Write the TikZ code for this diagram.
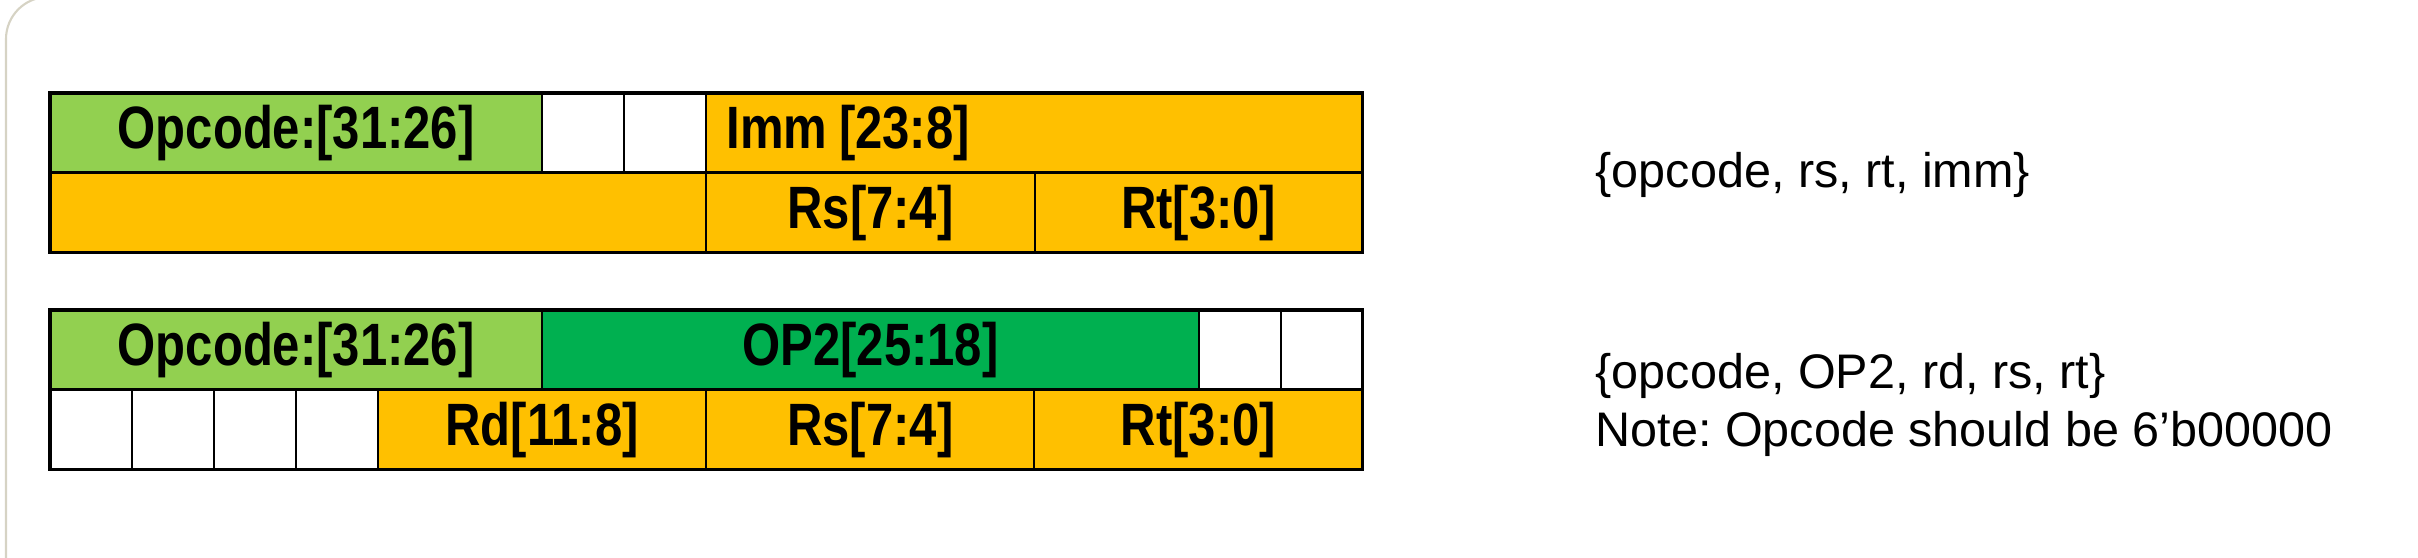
\documentclass[tikz,border=0pt]{standalone}
\usepackage{fontspec}
\setmainfont{Liberation Sans}
\newfontfamily\fieldfont[FakeStretch=0.82]{Liberation Sans}
\usetikzlibrary{positioning}
\frenchspacing

\definecolor{opgreen}{HTML}{92D050}
\definecolor{optwo}{HTML}{00B050}
\definecolor{fieldorange}{HTML}{FFC000}
\definecolor{framegray}{HTML}{D6D3C4}

\tikzset{
  field/.style={draw=black, line width=0.6pt, inner sep=0pt, outer sep=0pt,
    anchor=north west, minimum height=0.795cm,
    font=\fieldfont\fontsize{17}{19}\selectfont\bfseries},
  blank/.style={field, fill=white, minimum width=0.82cm},
  note/.style={anchor=base west, inner sep=0pt,
    font=\fontsize{13.8}{16}\selectfont}
}

\begin{document}
\begin{tikzpicture}[x=0.01cm,y=-0.01cm]
    \useasboundingbox (0,0) rectangle (2418,558);
    \clip (0,0) rectangle (2418,558);

    % 背景的圆角框
    \draw[framegray, line width=0.6pt, rounded corners=0.42cm] (6,-3) rectangle (2600,700);

    % 第一种格式 {opcode, rs, rt, imm}
    \node[field, fill=opgreen, minimum width=4.92cm] (opA) at (50,93) {Opcode:[31:26]};
    \node[blank, right=0pt of opA] (padA1) {};
    \node[blank, right=0pt of padA1] (padA2) {};
    \node[field, fill=fieldorange, inner xsep=0.2cm, text width=6.16cm, align=left,
          right=0pt of padA2] (immA) {Imm\hspace{0.2em}[23:8]};
    \node[field, fill=fieldorange, minimum width=6.56cm] (loA) at (50,173) {};
    \node[field, fill=fieldorange, minimum width=3.28cm, right=0pt of loA] (rsA) {Rs[7:4]};
    \node[field, fill=fieldorange, minimum width=3.28cm, right=0pt of rsA] (rtA) {Rt[3:0]};
    \draw[line width=0.9pt] (opA.north west) rectangle (rtA.south east);

    % 第二种格式 {opcode, OP2, rd, rs, rt}
    \node[field, fill=opgreen, minimum width=4.92cm] (opB) at (50,310) {Opcode:[31:26]};
    \node[field, fill=optwo, minimum width=6.56cm, right=0pt of opB] (optB) {OP2[25:18]};
    \node[blank, right=0pt of optB] (padB1) {};
    \node[blank, right=0pt of padB1] (padB2) {};
    \foreach \i in {1,...,4}
        \node[blank] (gapB\i) at ({50+82*(\i-1)},390) {};
    \node[field, fill=fieldorange, minimum width=3.28cm, right=0pt of gapB4] (rdB) {Rd[11:8]};
    \node[field, fill=fieldorange, minimum width=3.28cm, right=0pt of rdB] (rsB) {Rs[7:4]};
    \node[field, fill=fieldorange, minimum width=3.28cm, right=0pt of rsB] (rtB) {Rt[3:0]};
    \draw[line width=0.9pt] (opB.north west) rectangle (rtB.south east);

    % 右边的说明
    \node[note] (fmtA) at (1595,188) {\{opcode, rs, rt, imm\}};
    \node[note] (fmtB) at (1595,389) {\{opcode, OP2, rd, rs, rt\}};
    \node[note] (noteB) at (1595,447) {Note: Opcode should be 6’b00000};
\end{tikzpicture}
\end{document}
